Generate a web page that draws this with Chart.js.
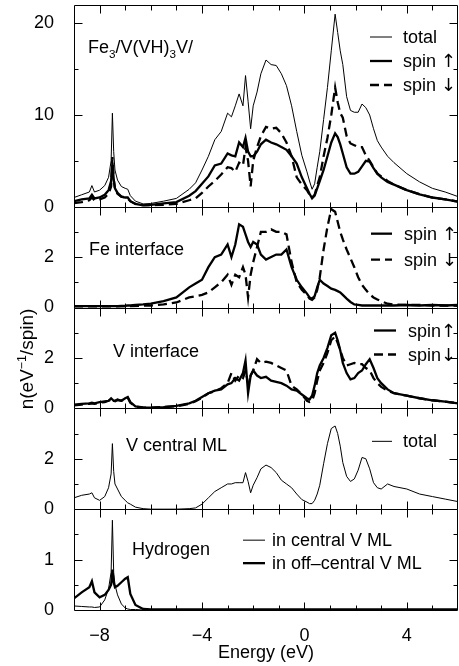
<!DOCTYPE html>
<html>
<head>
<meta charset="utf-8">
<script src="https://cdn.jsdelivr.net/npm/chart.js@4.4.0/dist/chart.umd.min.js"></script>
<style>
  html, body { margin: 0; padding: 0; background: #fff; }
</style>
</head>
<body>
<canvas id="dos" width="459" height="666"></canvas>
<script>
// energy grid (eV), denser around the sharp features
const energy = [
  -9, -8.7, -8.4, -8.3, -8.2, -8, -7.8, -7.65, -7.55, -7.5,
  -7.45, -7.4, -7.3, -7.15, -7, -6.9, -6.8, -6.6, -6.3, -6,
  -5.5, -5, -4.5, -4.25, -4, -3.75, -3.5, -3.25, -3, -2.85,
  -2.7, -2.55, -2.4, -2.3, -2.2, -2.1, -2, -1.85, -1.7, -1.5,
  -1.3, -1.1, -0.9, -0.7, -0.5, -0.3, -0.1, 0.1, 0.2, 0.3,
  0.4, 0.5, 0.6, 0.75, 0.9, 1.05, 1.2, 1.3, 1.4, 1.5,
  1.65, 1.8, 1.95, 2.1, 2.25, 2.4, 2.55, 2.7, 2.85, 3,
  3.25, 3.5, 4, 4.5, 5, 5.5, 6
];

// Fe3/V(VH)3V/ whole cell
const totalDos = [
  1.0, 1.3, 1.6, 2.3, 1.6, 1.8, 2.3, 3.2, 5.0, 10.2,
  6.0, 4.0, 2.9, 2.2, 2.0, 1.9, 1.2, 0.6, 0.3, 0.35,
  0.6, 0.9, 1.9, 2.6, 4.0, 5.5, 7.3, 8.2, 10.2, 9.8,
  11.0, 12.3, 11.0, 14.3, 11.5, 8.5, 11.0, 12.5, 14.5, 16.0,
  15.5, 15.4, 14.5, 13.2, 11.0, 8.2, 5.6, 3.8, 2.8, 1.9,
  2.5, 4.3, 6.0, 9.5, 13.0, 17.0, 21.0, 19.0, 17.0, 15.5,
  12.0, 10.5, 10.3, 10.3, 11.2, 10.8, 10.0, 8.5, 7.2, 6.5,
  5.5, 4.8, 3.6, 2.7, 2.0, 1.6, 1.1
];
const totalUp = [
  0.6, 0.8, 0.9, 1.3, 0.9, 1.0, 1.3, 1.8, 2.8, 4.8,
  3.0, 2.0, 1.5, 1.1, 1.0, 1.0, 0.6, 0.3, 0.15, 0.2,
  0.35, 0.5, 1.2, 1.7, 2.5, 3.3, 4.5, 4.7, 5.8, 5.6,
  5.5, 7.0, 6.5, 7.5, 6.0, 5.5, 5.5, 6.0, 6.8, 7.3,
  7.0, 6.8, 6.5, 6.2, 5.5, 4.7, 3.2, 2.0, 1.4, 0.9,
  1.2, 2.0, 2.8, 4.0, 5.5, 7.0, 8.0, 7.6, 6.8, 5.8,
  4.3, 3.6, 3.6, 3.8, 4.4, 5.0, 4.9, 4.2, 3.6, 3.2,
  2.7, 2.4, 1.8, 1.35, 1.0, 0.8, 0.55
];
const totalDown = [
  0.4, 0.5, 0.7, 1.0, 0.7, 0.8, 1.0, 1.4, 2.2, 5.4,
  3.0, 2.0, 1.4, 1.1, 1.0, 0.9, 0.6, 0.3, 0.15, 0.15,
  0.2, 0.3, 0.7, 0.9, 1.5, 2.2, 2.8, 3.5, 4.3, 4.2,
  3.8, 4.8, 4.5, 6.5, 5.0, 2.2, 5.0, 6.5, 7.7, 8.7,
  8.5, 8.6, 8.0, 7.0, 5.5, 3.2, 2.4, 1.8, 1.3, 1.0,
  1.3, 2.3, 3.2, 5.5, 7.5, 10.0, 13.0, 11.4, 10.2, 9.7,
  7.7, 6.9, 6.7, 6.5, 6.5, 5.6, 5.0, 4.3, 3.6, 3.3,
  2.8, 2.4, 1.8, 1.35, 1.0, 0.8, 0.55
];

// Fe interface layer
const feUp = [
  0.05, 0.05, 0.05, 0.05, 0.05, 0.05, 0.05, 0.05, 0.05, 0.05,
  0.05, 0.05, 0.05, 0.06, 0.07, 0.08, 0.08, 0.1, 0.12, 0.15,
  0.25, 0.4, 0.8, 0.95, 1.1, 1.6, 2.0, 2.1, 2.5, 2.0,
  2.5, 3.3, 3.2, 2.9, 2.6, 2.4, 2.6, 2.5, 2.1, 1.9,
  2.0, 2.1, 2.1, 2.3, 1.6, 1.1, 0.8, 0.55, 0.4, 0.35,
  0.45, 0.8, 1.1, 0.95, 0.85, 0.75, 0.7, 0.65, 0.6, 0.5,
  0.35, 0.22, 0.12, 0.1, 0.08, 0.08, 0.08, 0.08, 0.08, 0.08,
  0.08, 0.08, 0.1, 0.08, 0.1, 0.08, 0.1
];
const feDown = [
  0.03, 0.03, 0.03, 0.03, 0.03, 0.03, 0.03, 0.03, 0.03, 0.03,
  0.03, 0.03, 0.03, 0.04, 0.04, 0.05, 0.05, 0.06, 0.07, 0.08,
  0.12, 0.2, 0.4, 0.45, 0.5, 0.6, 0.8, 1.0, 1.3, 0.9,
  1.3, 1.2, 1.6, 1.3, 0.4, 1.3, 1.8, 2.4, 3.0, 3.0,
  3.1, 3.0, 3.0, 2.9, 1.8, 1.0, 0.7, 0.5, 0.35, 0.3,
  0.4, 0.7, 1.2, 2.3, 3.2, 3.9, 3.8, 3.4, 3.0, 2.7,
  2.3, 1.95, 1.6, 1.2, 0.9, 0.7, 0.52, 0.4, 0.32, 0.25,
  0.15, 0.12, 0.1, 0.1, 0.08, 0.08, 0.07
];

// V interface layer
const vUp = [
  0.15, 0.18, 0.2, 0.22, 0.2, 0.25, 0.28, 0.3, 0.4, 0.35,
  0.3, 0.3, 0.35, 0.3, 0.4, 0.45, 0.25, 0.08, 0.04, 0.03,
  0.05, 0.1, 0.2, 0.3, 0.45, 0.6, 0.7, 0.75, 0.95, 1.0,
  1.2, 1.1, 1.4, 1.9, 0.6, 1.3, 1.5, 1.3, 1.2, 1.25,
  1.1, 1.05, 1.0, 0.9, 0.75, 0.7, 0.55, 0.4, 0.35, 0.5,
  0.9, 1.4, 1.7, 2.0, 2.4, 2.9, 3.0, 2.7, 2.3, 1.8,
  1.4, 1.15, 1.2, 1.4, 1.5, 1.75, 1.95, 1.6, 1.2, 1.0,
  0.75, 0.6, 0.5, 0.4, 0.32, 0.27, 0.2
];
const vDown = [
  0.12, 0.15, 0.18, 0.2, 0.18, 0.22, 0.25, 0.3, 0.35, 0.3,
  0.28, 0.28, 0.33, 0.3, 0.38, 0.42, 0.22, 0.07, 0.03, 0.03,
  0.05, 0.08, 0.18, 0.28, 0.42, 0.6, 0.68, 0.8, 1.0, 1.4,
  1.1, 1.3, 1.2, 1.5, 1.0, 1.3, 1.5, 1.95, 1.8, 1.85,
  1.8, 1.7, 1.6, 1.5, 0.9, 0.75, 0.55, 0.3, 0.25, 0.3,
  0.6, 1.1, 1.5, 1.8, 2.2, 2.7, 2.85, 2.6, 2.3, 2.0,
  1.7, 1.75, 1.8, 1.75, 1.75, 1.6, 1.5, 1.2, 1.0, 0.85,
  0.7, 0.6, 0.5, 0.4, 0.32, 0.27, 0.2
];

// V central monolayer
const vCentral = [
  0.45, 0.55, 0.6, 0.65, 0.45, 0.35, 0.5, 0.85, 1.4, 2.6,
  1.5, 1.0, 0.8, 0.5, 0.35, 0.25, 0.2, 0.08, 0.02, 0.0,
  0.0, 0.0, 0.02, 0.05, 0.2, 0.45, 0.7, 0.85, 1.0, 1.0,
  1.05, 1.05, 1.05, 1.45, 1.1, 0.65, 0.95, 1.25, 1.6, 1.75,
  1.65, 1.45, 1.15, 1.0, 0.85, 0.6, 0.38, 0.28, 0.22, 0.22,
  0.35, 0.6, 0.95, 1.8, 2.6, 3.2, 3.3, 3.0, 2.5, 1.85,
  1.3, 1.1, 1.2, 1.55, 2.05, 2.0, 1.6, 1.05, 0.85, 0.8,
  1.0, 0.9, 0.8, 0.6, 0.5, 0.4, 0.3
];

// Hydrogen
const hCentral = [
  0.08, 0.07, 0.06, 0.06, 0.05, 0.06, 0.2, 0.42, 0.75, 1.78,
  0.75, 0.5, 0.3, 0.12, 0.04, 0.02, 0.01, 0.01, 0, 0,
  0, 0, 0, 0, 0, 0, 0, 0, 0, 0,
  0, 0, 0, 0, 0, 0, 0, 0, 0, 0,
  0, 0, 0, 0, 0, 0, 0, 0, 0, 0,
  0, 0, 0, 0, 0, 0, 0, 0, 0, 0,
  0, 0, 0, 0, 0, 0, 0, 0, 0, 0,
  0, 0, 0, 0, 0, 0, 0
];
const hOffCentral = [
  0.23, 0.35, 0.45, 0.57, 0.35, 0.25, 0.3, 0.4, 0.5, 0.8,
  0.55, 0.45, 0.48, 0.55, 0.62, 0.65, 0.32, 0.1, 0.02, 0.01,
  0.01, 0.01, 0.01, 0.01, 0.01, 0.01, 0.01, 0.01, 0.01, 0.01,
  0.01, 0.01, 0.01, 0.01, 0.01, 0.01, 0.01, 0.01, 0.01, 0.01,
  0.01, 0.01, 0.01, 0.01, 0.01, 0.01, 0.01, 0.01, 0.01, 0.01,
  0.01, 0.01, 0.01, 0.01, 0.01, 0.01, 0.01, 0.01, 0.01, 0.01,
  0.01, 0.01, 0.01, 0.01, 0.01, 0.01, 0.01, 0.01, 0.01, 0.01,
  0.01, 0.01, 0.01, 0.01, 0.01, 0.01, 0.01
];

// tick labels
const xTickLabels = [-8, -4, 0, 4];
const tickLabelsTotal = [0, 10, 20];
const tickLabelsFe = [0, 2];
const tickLabelsV = [0, 2];
const tickLabelsVc = [0, 2];
const tickLabelsH = [0, 1];

const FONT = '"Liberation Sans", Arial, Helvetica, sans-serif';
const ARROW_FONT = '"DejaVu Sans", sans-serif';
const SIZE = 18;

// panel layout, top to bottom
const panels = [
  { id: 'yTotal', max: 22, step: 5, labels: tickLabelsTotal, weight: 2,
    title: [['Fe', 0], ['3', 1], ['/V(VH)', 0], ['3', 1], ['V/', 0]], titleX: 88, titleY: 48,
    legendX: [370, 392, 403], legend: [['total', 32], ['spin \u2191', 56], ['spin \u2193', 80]] },
  { id: 'yFe', max: 4, step: 1, labels: tickLabelsFe, weight: 1,
    title: [['Fe interface', 0]], titleX: 89, titleY: 48,
    legendX: [371, 392, 404], legend: [['spin \u2191 ', 27], ['spin \u2193 ', 53]] },
  { id: 'yV', max: 4, step: 1, labels: tickLabelsV, weight: 1,
    title: [['V interface', 0]], titleX: 113, titleY: 49,
    legendX: [374, 396, 408], legend: [['spin\u2191', 23], ['spin\u2193', 47]] },
  { id: 'yVc', max: 4, step: 1, labels: tickLabelsVc, weight: 1,
    title: [['V central ML', 0]], titleX: 126, titleY: 43,
    legendX: [372, 392, 403], legend: [['total ', 33]] },
  { id: 'yH', max: 2, step: 0.5, labels: tickLabelsH, weight: 1,
    title: [['Hydrogen', 0]], titleX: 132, titleY: 46,
    legendX: [243, 265, 272], legend: [['in central V ML', 31], ['in off\u2013central V ML', 54]] }
];

function series(label, values, axis, thick, dashed) {
  return {
    label: label,
    yAxisID: axis,
    data: energy.map((e, i) => ({ x: e, y: values[i] })),
    borderColor: '#000',
    borderWidth: thick ? 2.3 : 1,
    borderDash: dashed ? [9, 5] : [],
    pointRadius: 0,
    tension: 0,
    fill: false
  };
}

const datasets = [
  series('total', totalDos, 'yTotal', false, false),
  series('spin \u2191', totalUp, 'yTotal', true, false),
  series('spin \u2193', totalDown, 'yTotal', true, true),
  series('spin \u2191 ', feUp, 'yFe', true, false),
  series('spin \u2193 ', feDown, 'yFe', true, true),
  series('spin\u2191', vUp, 'yV', true, false),
  series('spin\u2193', vDown, 'yV', true, true),
  series('total ', vCentral, 'yVc', false, false),
  series('in central V ML', hCentral, 'yH', false, false),
  series('in off\u2013central V ML', hOffCentral, 'yH', true, false)
];

const scales = {
  x: {
    type: 'linear',
    min: -9,
    max: 6,
    grid: { display: false },
    border: { display: false },
    ticks: {
      padding: 7,
      color: '#000',
      maxRotation: 0,
      font: { family: FONT, size: SIZE },
      callback: v => (v < 0 ? '\u2212' + Math.abs(v) : String(v))
    },
    afterBuildTicks: s => { s.ticks = xTickLabels.map(v => ({ value: v })); },
    title: {
      display: true,
      text: 'Energy (eV)',
      color: '#000',
      font: { family: FONT, size: SIZE },
      padding: { top: 3, bottom: 2 }
    },
    afterFit: s => { s.height = 56; s.paddingLeft = 0; s.paddingRight = 0; }
  }
};

panels.forEach((p, i) => {
  scales[p.id] = {
    type: 'linear',
    position: 'left',
    stack: 'dos',
    stackWeight: p.weight,
    weight: panels.length - i,
    min: 0,
    max: p.max,
    grid: { display: false },
    border: { display: false },
    ticks: {
      padding: 12,
      color: '#000',
      font: { family: FONT, size: SIZE },
      callback: v => String(v)
    },
    afterBuildTicks: s => { s.ticks = p.labels.map(v => ({ value: v })); },
    afterFit: s => { s.width = 74; s.paddingTop = 0; s.paddingBottom = 0; }
  };
});

function drawParts(ctx, parts, x, y, size) {
  parts.forEach(([txt, kind]) => {
    if (kind === 1) {
      ctx.font = (size * 0.65) + 'px ' + FONT;
      ctx.fillText(txt, x, y + 5);
    } else if (kind === 2) {
      ctx.font = (size * 0.65) + 'px ' + FONT;
      ctx.fillText(txt, x, y - 7);
    } else if (kind === 3) {
      ctx.font = size + 'px ' + ARROW_FONT;
      ctx.fillText(txt, x, y);
    } else {
      ctx.font = size + 'px ' + FONT;
      ctx.fillText(txt, x, y);
    }
    x += ctx.measureText(txt).width;
  });
  return x;
}

// split a legend text so the arrows come from a font with full-height arrows
function legendParts(name) {
  return name.trim().split(/([\u2191\u2193])/).filter(t => t).map(t => [t, /[\u2191\u2193]/.test(t) ? 3 : 0]);
}

const decorPlugin = {
  id: 'decor',
  afterDraw(chart) {
    const ctx = chart.ctx;
    const xs = chart.scales.x;
    const left = Math.round(chart.chartArea.left) + 0.5;
    const right = Math.round(chart.chartArea.right) - 0.5;
    ctx.save();
    ctx.strokeStyle = '#000';
    ctx.fillStyle = '#000';
    ctx.lineWidth = 1;
    ctx.setLineDash([]);

    panels.forEach(p => {
      const ys = chart.scales[p.id];
      const top = Math.round(ys.top) + 0.5;
      const bottom = Math.round(ys.bottom) + 0.5;
      ctx.beginPath();
      ctx.rect(left, top, right - left, bottom - top);
      for (let e = -8; e <= 5; e++) {
        const px = Math.round(xs.getPixelForValue(e)) + 0.5;
        const len = xTickLabels.includes(e) ? 8 : 5;
        ctx.moveTo(px, top); ctx.lineTo(px, top + len);
        ctx.moveTo(px, bottom); ctx.lineTo(px, bottom - len);
      }
      for (let v = p.step; v < p.max - 1e-6; v += p.step) {
        const py = Math.round(ys.getPixelForValue(v)) + 0.5;
        const len = p.labels.includes(v) ? 8 : 4;
        ctx.moveTo(left, py); ctx.lineTo(left + len, py);
        ctx.moveTo(right, py); ctx.lineTo(right - len, py);
      }
      ctx.stroke();

      // panel name
      ctx.textAlign = 'left';
      ctx.textBaseline = 'alphabetic';
      drawParts(ctx, p.title, p.titleX, ys.top + p.titleY, SIZE);

      // legend
      p.legend.forEach(([name, dy]) => {
        const ds = chart.data.datasets.find(d => d.yAxisID === p.id && d.label === name);
        const y = ys.top + dy;
        ctx.save();
        ctx.lineWidth = ds.borderWidth;
        ctx.setLineDash(ds.borderDash);
        ctx.beginPath();
        ctx.moveTo(p.legendX[0], y);
        ctx.lineTo(p.legendX[1], y);
        ctx.stroke();
        ctx.restore();
        drawParts(ctx, legendParts(name), p.legendX[2], y + 6, SIZE);
      });
    });

    // y axis title
    ctx.save();
    ctx.translate(33, 359);
    ctx.rotate(-Math.PI / 2);
    const ySize = 19;
    const parts = [['n(eV', 0], ['\u22121', 2], ['/spin)', 0]];
    let w = 0;
    parts.forEach(([t, k]) => {
      ctx.font = (k ? ySize * 0.65 : ySize) + 'px ' + FONT;
      w += ctx.measureText(t).width;
    });
    drawParts(ctx, parts, -w / 2, 0, ySize);
    ctx.restore();

    ctx.restore();
  }
};

new Chart(document.getElementById('dos').getContext('2d'), {
  type: 'line',
  data: { datasets: datasets },
  options: {
    responsive: false,
    animation: false,
    devicePixelRatio: 1,
    layout: { padding: { top: 5, right: 1, bottom: 0, left: 0 } },
    plugins: {
      legend: { display: false },
      tooltip: { enabled: false }
    },
    scales: scales
  },
  plugins: [decorPlugin]
});
</script>
</body>
</html>
